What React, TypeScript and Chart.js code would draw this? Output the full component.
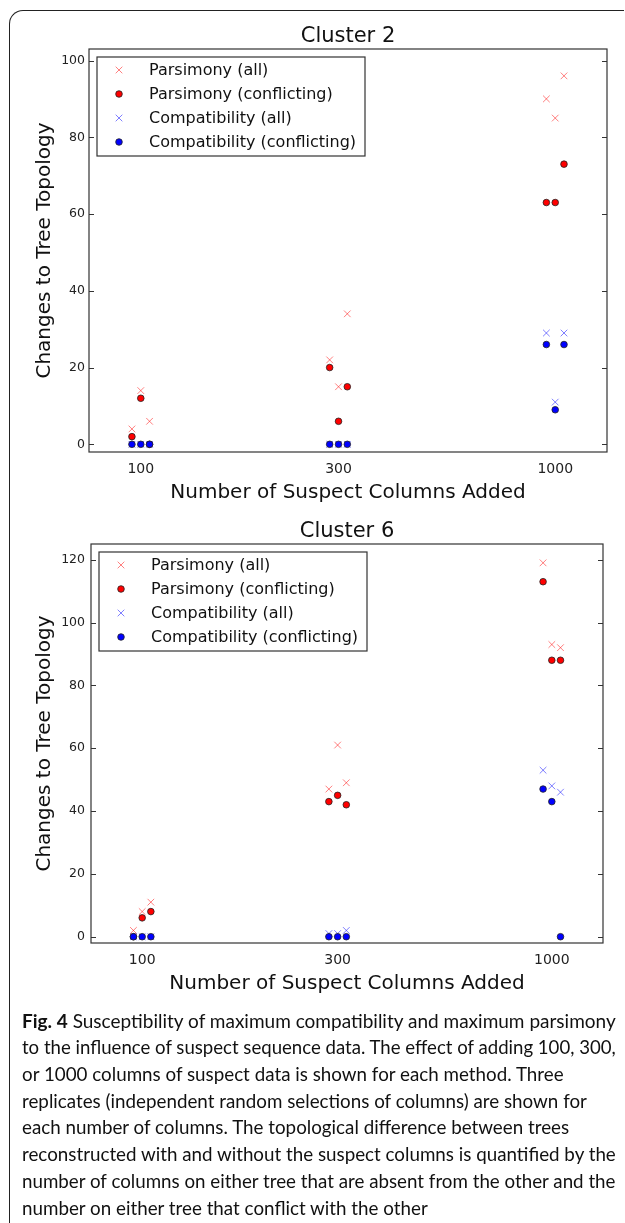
import React, { useEffect, useRef, useMemo } from "react";
import { Chart, registerables } from "chart.js";
Chart.register(...registerables);

// ---------- data ----------
const columnsAdded = [100, 300, 1000];
const xTicks = [100, 300, 1000];
const seriesLabels = [
  "Parsimony (all)",
  "Parsimony (conflicting)",
  "Compatibility (all)",
  "Compatibility (conflicting)",
];

// three replicates per number of columns (100 x3, 300 x3, 1000 x3)
const c2ParsimonyAll = [4, 14, 6, 22, 15, 34, 90, 85, 96];
const c2ParsimonyConflicting = [2, 12, 0, 20, 6, 15, 63, 63, 73];
const c2CompatibilityAll = [0, 0, 0, 0, 0, 0, 29, 11, 29];
const c2CompatibilityConflicting = [0, 0, 0, 0, 0, 0, 26, 9, 26];
const c2YTicks = [0, 20, 40, 60, 80, 100];

const c6ParsimonyAll = [2, 8, 11, 47, 61, 49, 119, 93, 92];
const c6ParsimonyConflicting = [0, 6, 8, 43, 45, 42, 113, 88, 88];
const c6CompatibilityAll = [0, 0, 0, 1, 1, 2, 53, 48, 46];
const c6CompatibilityConflicting = [0, 0, 0, 0, 0, 0, 47, 43, 0];
const c6YTicks = [0, 20, 40, 60, 80, 100, 120];

const captionBold = "Fig. 4";
const captionLines = [
  " Susceptibility of maximum compatibility and maximum parsimony",
  "to the influence of suspect sequence data. The effect of adding 100, 300,",
  "or 1000 columns of suspect data is shown for each method. Three",
  "replicates (independent random selections of columns) are shown for",
  "each number of columns. The topological difference between trees",
  "reconstructed with and without the suspect columns is quantified by the",
  "number of columns on either tree that are absent from the other and the",
  "number on either tree that conflict with the other",
];
const fullWidthLines = [0, 1, 5, 6];

// ---------- styling ----------
const replicateFactor = [0.952, 1, 1.05];
const FONT = "DejaVu Sans";
const CAP_FONT = "Lato";
const CAP_SIZE = 19.5;
const seriesStyles = [
  { kind: "cross", color: "rgba(255,0,0,0.5)", radius: 4.7, border: "rgba(255,0,0,0.5)", bw: 1 },
  { kind: "dot", color: "#ff0000", radius: 3.3, border: "#222", bw: 0.8 },
  { kind: "cross", color: "rgba(0,0,255,0.5)", radius: 4.7, border: "rgba(0,0,255,0.5)", bw: 1 },
  { kind: "dot", color: "#0000ff", radius: 3.3, border: "#222", bw: 0.8 },
];

function toPoints(values: number[]) {
  return values.map((v, i) => ({
    x: columnsAdded[Math.floor(i / 3)] * replicateFactor[i % 3],
    y: v,
  }));
}

function drawMarker(ctx: CanvasRenderingContext2D, s: any, x: number, y: number) {
  ctx.save();
  if (s.kind === "cross") {
    const d = s.radius * Math.SQRT1_2;
    ctx.strokeStyle = s.border;
    ctx.lineWidth = s.bw;
    ctx.beginPath();
    ctx.moveTo(x - d, y - d);
    ctx.lineTo(x + d, y + d);
    ctx.moveTo(x - d, y + d);
    ctx.lineTo(x + d, y - d);
    ctx.stroke();
  } else {
    ctx.fillStyle = s.color;
    ctx.strokeStyle = s.border;
    ctx.lineWidth = s.bw;
    ctx.beginPath();
    ctx.arc(x, y, s.radius, 0, Math.PI * 2);
    ctx.fill();
    ctx.stroke();
  }
  ctx.restore();
}

function makeDecor(title: string, yTicks: number[]) {
  return {
    id: "decor_" + title.replace(/\s/g, ""),
    afterDraw(chart: any) {
      const { ctx, chartArea } = chart;
      const { left, right, top, bottom } = chartArea;
      const yScale = chart.scales.y;
      ctx.save();
      ctx.strokeStyle = "#333";
      ctx.lineWidth = 1.2;
      ctx.strokeRect(left, top, right - left, bottom - top);
      ctx.lineWidth = 1;
      ctx.beginPath();
      for (const t of yTicks) {
        const py = Math.round(yScale.getPixelForValue(t)) + 0.5;
        ctx.moveTo(left, py);
        ctx.lineTo(left + 5, py);
        ctx.moveTo(right, py);
        ctx.lineTo(right - 5, py);
      }
      ctx.stroke();
      ctx.fillStyle = "#111";
      ctx.font = `21px '${FONT}'`;
      ctx.textAlign = "center";
      ctx.textBaseline = "middle";
      ctx.fillText(title, (left + right) / 2, top - 12.5);
      const bx = left + 8;
      const by = top + 8;
      const bw = 268;
      const bh = 99;
      ctx.fillStyle = "#fff";
      ctx.fillRect(bx, by, bw, bh);
      ctx.strokeStyle = "#333";
      ctx.lineWidth = 1.2;
      ctx.strokeRect(bx, by, bw, bh);
      ctx.font = `16px '${FONT}'`;
      ctx.textAlign = "left";
      ctx.textBaseline = "middle";
      seriesLabels.forEach((lab, i) => {
        const ly = by + 13 + i * 24;
        drawMarker(ctx, seriesStyles[i], bx + 22, ly);
        ctx.fillStyle = "#111";
        ctx.fillText(lab, bx + 52, ly + 1);
      });
      ctx.restore();
    },
  };
}

type PanelProps = {
  title: string;
  series: number[][];
  yTicks: number[];
  yMin: number;
  yMax: number;
  top: number;
  height: number;
  yAxisWidth: number;
  rightPad: number;
  yTickPad: number;
};

function Panel(p: PanelProps) {
  const ref = useRef<HTMLCanvasElement | null>(null);
  useEffect(() => {
    if (!ref.current) return;
    const datasets = p.series.map((vals, i) => {
      const s = seriesStyles[i];
      return {
        label: seriesLabels[i],
        data: toPoints(vals),
        showLine: false,
        pointStyle: s.kind === "cross" ? "crossRot" : "circle",
        pointRadius: s.radius,
        pointHoverRadius: s.radius,
        pointBackgroundColor: s.color,
        pointBorderColor: s.border,
        pointBorderWidth: s.bw,
        order: 4 - i,
      };
    });
    const chart = new Chart(ref.current, {
      type: "scatter",
      data: { datasets },
      plugins: [makeDecor(p.title, p.yTicks)],
      options: {
        animation: false,
        responsive: false,
        devicePixelRatio: 1,
        events: [],
        layout: { padding: { top: 49, right: p.rightPad, bottom: 0, left: 0 } },
        plugins: {
          legend: { display: false },
          tooltip: { enabled: false },
          title: { display: false },
        },
        scales: {
          x: {
            type: "logarithmic",
            position: "bottom",
            min: 75,
            max: 1333.33,
            grid: { display: false, drawTicks: false },
            border: { display: false },
            ticks: {
              autoSkip: false,
              maxRotation: 0,
              padding: 9.3,
              color: "#222",
              font: { family: FONT, size: 14 },
              callback: (v: any) => String(v),
            },
            afterBuildTicks: (s: any) => {
              s.ticks = xTicks.map((v) => ({ value: v }));
            },
            afterFit: (s: any) => {
              s.height = 58;
            },
            title: {
              display: true,
              text: "Number of Suspect Columns Added",
              color: "#111",
              font: { family: FONT, size: 20 },
              padding: { top: 0, bottom: 5 },
            },
          },
          y: {
            type: "linear",
            min: p.yMin,
            max: p.yMax,
            grid: { display: false, drawTicks: false },
            border: { display: false },
            ticks: {
              padding: p.yTickPad,
              color: "#222",
              font: { family: FONT, size: 12.5 },
              callback: (v: any) => String(v),
            },
            afterBuildTicks: (s: any) => {
              s.ticks = p.yTicks.map((v) => ({ value: v }));
            },
            afterFit: (s: any) => {
              s.width = p.yAxisWidth;
            },
            title: {
              display: true,
              text: "Changes to Tree Topology",
              color: "#111",
              font: { family: FONT, size: 20 },
              padding: { top: 33, bottom: 0 },
            },
          },
        },
      } as any,
    });
    return () => chart.destroy();
  }, []);
  return (
    <canvas
      ref={ref}
      width={625}
      height={p.height}
      style={{ position: "absolute", left: 0, top: p.top, width: 625, height: p.height }}
    />
  );
}

function Caption() {
  const scales = useMemo(() => {
    const c = document.createElement("canvas");
    const ctx = c.getContext("2d")!;
    const widths = captionLines.map((line, i) => {
      let w = 0;
      if (i === 0) {
        ctx.font = `bold ${CAP_SIZE}px ${CAP_FONT}`;
        w += ctx.measureText(captionBold).width;
      }
      ctx.font = `${CAP_SIZE}px ${CAP_FONT}`;
      w += ctx.measureText(line).width;
      return w;
    });
    const full = fullWidthLines.map((i) => 595 / widths[i]);
    const avg = full.reduce((a, b) => a + b, 0) / full.length;
    return captionLines.map((_, i) => {
      const j = fullWidthLines.indexOf(i);
      return j >= 0 ? full[j] : Math.min(avg, 598 / widths[i]);
    });
  }, []);
  return (
    <div
      style={{
        position: "absolute",
        left: 22,
        top: 1021 - 13.35,
        fontFamily: CAP_FONT,
        fontSize: CAP_SIZE,
        lineHeight: "26.7px",
        color: "#111",
      }}
    >
      {captionLines.map((line, i) => (
        <div
          key={i}
          style={{ whiteSpace: "pre", transform: `scaleX(${scales[i]})`, transformOrigin: "left center" }}
        >
          {i === 0 ? <b>{captionBold}</b> : null}
          {line}
        </div>
      ))}
    </div>
  );
}

export default function App() {
  return (
    <div
      style={{
        position: "absolute",
        left: 0,
        top: 0,
        width: 625,
        height: 1223,
        overflow: "hidden",
        background: "#fff",
      }}
    >
      <div
        style={{
          position: "absolute",
          left: 9,
          top: 10,
          width: 614,
          height: 1260,
          borderLeft: "1.6px solid #222",
          borderTop: "1.6px solid #222",
          borderTopLeftRadius: 14,
        }}
      />
      <Panel
        title="Cluster 2"
        series={[c2ParsimonyAll, c2ParsimonyConflicting, c2CompatibilityAll, c2CompatibilityConflicting]}
        yTicks={c2YTicks}
        yMin={-2}
        yMax={103}
        top={0}
        height={510}
        yAxisWidth={89}
        rightPad={18}
        yTickPad={4}
      />
      <Panel
        title="Cluster 6"
        series={[c6ParsimonyAll, c6ParsimonyConflicting, c6CompatibilityAll, c6CompatibilityConflicting]}
        yTicks={c6YTicks}
        yMin={-2}
        yMax={125}
        top={495}
        height={506}
        yAxisWidth={91}
        rightPad={22}
        yTickPad={6}
      />
      <Caption />
    </div>
  );
}
